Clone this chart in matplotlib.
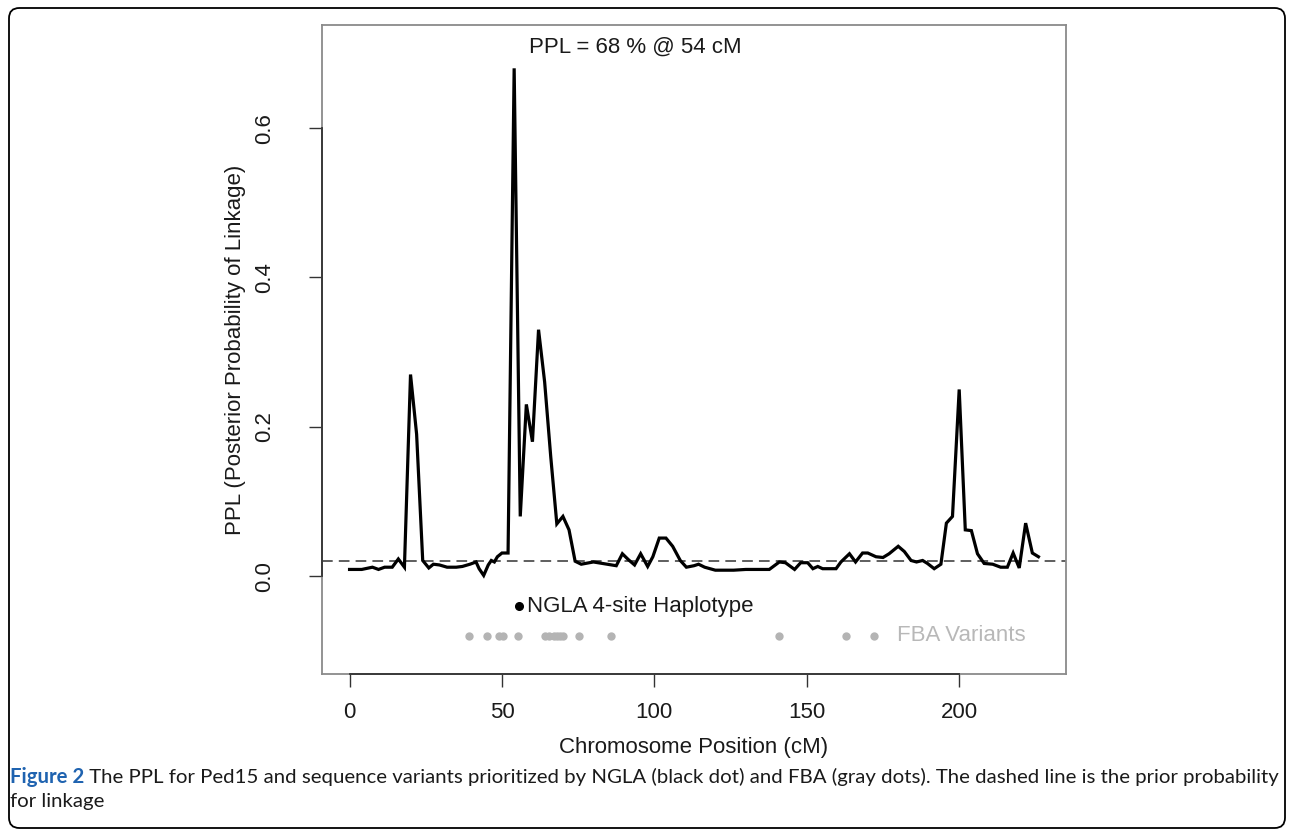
import matplotlib
matplotlib.use("Agg")
import matplotlib.pyplot as plt
from matplotlib.patches import FancyBboxPatch
from matplotlib.lines import Line2D

# ---------------- data ----------------
position_cm = [0, 4, 7.5, 9.5, 11.5, 14, 16, 18, 20, 22, 24, 26, 27.5, 29.5, 32, 35, 37,
               39.5, 41.5, 42.5, 44, 45.5, 46.5, 47.5, 48.5, 50, 52, 54, 56, 58, 60, 62,
               64, 66, 68, 70, 72, 74, 76, 80, 83, 87.5, 89.5, 91.5, 93.5, 95.5, 97.8,
               99.5, 101.6, 103.8, 106, 108.5, 110.5, 113, 114.5, 116.5, 120, 126, 130,
               137.7, 141, 143, 146, 148, 150.3, 152, 153.6, 155.2, 159.6, 161.2, 164,
               166, 168.3, 170, 172.7, 175, 177, 180, 182, 184.2, 186, 188, 189.6, 191.8,
               194, 195.8, 197.8, 200, 202, 204, 206, 208.2, 211, 213.6, 215.8, 217.7,
               219.7, 221.8, 224, 226]
ppl = [0.009, 0.009, 0.012, 0.009, 0.012, 0.012, 0.023, 0.012, 0.27, 0.19, 0.021, 0.011,
       0.016, 0.015, 0.012, 0.012, 0.013, 0.016, 0.019, 0.010, 0.001, 0.015, 0.021, 0.019,
       0.026, 0.031, 0.031, 0.68, 0.08, 0.23, 0.18, 0.33, 0.26, 0.16, 0.07, 0.08, 0.062,
       0.02, 0.016, 0.019, 0.017, 0.014, 0.030, 0.022, 0.015, 0.030, 0.013, 0.026, 0.051,
       0.051, 0.040, 0.021, 0.012, 0.014, 0.016, 0.012, 0.008, 0.008, 0.009, 0.009, 0.019,
       0.018, 0.009, 0.018, 0.018, 0.010, 0.013, 0.010, 0.010, 0.019, 0.030, 0.019, 0.031,
       0.031, 0.026, 0.025, 0.030, 0.040, 0.033, 0.021, 0.019, 0.021, 0.017, 0.010, 0.016,
       0.071, 0.080, 0.25, 0.062, 0.061, 0.030, 0.017, 0.016, 0.012, 0.012, 0.031, 0.011,
       0.071, 0.031, 0.026]
prior_probability = 0.02

ngla_position = [55.7]
ngla_y = [-0.04]
fba_positions = [39.1, 45.1, 48.9, 50.3, 55.2, 64, 65.5, 67, 68, 69, 70, 75.4, 85.8,
                 140.8, 162.8, 171.9]
fba_y = -0.08

peak_label = "PPL = 68 % @ 54 cM"
ngla_label = "NGLA 4-site Haplotype"
fba_label = "FBA Variants"
x_ticks = [0, 50, 100, 150, 200]
y_ticks = [0.0, 0.2, 0.4, 0.6]
x_title = "Chromosome Position (cM)"
y_title = "PPL (Posterior Probability of Linkage)"
caption_bold = "Figure 2"
caption_line1 = (" The PPL for Ped15 and sequence variants prioritized by NGLA (black dot) and "
                 "FBA (gray dots). The dashed line is the prior probability")
caption_line2 = "for linkage"

# ---------------- figure ----------------
W, H = 1292, 833
fig = plt.figure(figsize=(W / 100, H / 100), dpi=100)
plt.rcParams['font.family'] = ['Liberation Sans', 'DejaVu Sans']
FS = 16.0

def fx(px):
    return px / W

def fy(py):
    return 1 - py / H

# rounded border of the figure panel
border = FancyBboxPatch((fx(9), fy(828)), fx(1285) - fx(9), fy(8) - fy(828),
                        boxstyle="round,pad=0,rounding_size=0.008",
                        transform=fig.transFigure, fill=False, edgecolor='black',
                        linewidth=1.3, mutation_aspect=W / H)
fig.patches.append(border)

left, right, top, bottom = 322, 1066, 25, 674
ax = fig.add_axes([fx(left), fy(bottom), fx(right) - fx(left), fy(top) - fy(bottom)])
ax.set_xlim(-9.04, 235.04)
ax.set_ylim(-0.131, 0.738)

for sp in ax.spines.values():
    sp.set_color('#8a8a8a')
    sp.set_linewidth(1.3)

ax.plot(position_cm, ppl, color='black', linewidth=2.3, solid_joinstyle='miter', zorder=3)
ax.axhline(prior_probability, color='#333333', linewidth=1.1, dashes=(7, 4), zorder=2)

ax.plot(ngla_position, ngla_y, 'o', color='black', markersize=5.5, zorder=4)
ax.plot(fba_positions, [fba_y] * len(fba_positions), 'o', color='#b4b4b4',
        markersize=6, markeredgewidth=0, zorder=4)

ax.text(59, 0.708, peak_label, fontsize=FS, color='#1a1a1a', va='center', ha='left')
ax.text(58.3, -0.04, ngla_label, fontsize=FS, color='#1a1a1a', va='center', ha='left')
ax.text(179.5, -0.08, fba_label, fontsize=FS, color='#b8b8b8', va='center', ha='left')

ax.set_xticks(x_ticks)
ax.set_xticklabels([str(t) for t in x_ticks])
ax.set_yticks(y_ticks)
ax.set_yticklabels([f"{t:.1f}" for t in y_ticks])
ax.tick_params(axis='both', direction='out', length=9.5, width=1.0, color='#333333',
               labelsize=FS, labelcolor='#1a1a1a')
ax.tick_params(axis='x', pad=11)
ax.tick_params(axis='y', pad=24, labelrotation=90)
for lab in ax.get_yticklabels():
    lab.set_va('center')

# darker axis lines over the tick range (R style axis)
ax.add_line(Line2D([x_ticks[0], x_ticks[-1]], [0, 0], transform=ax.get_xaxis_transform(),
                   color='#333333', linewidth=1.3, clip_on=False, zorder=5))
ax.add_line(Line2D([0, 0], [y_ticks[0], y_ticks[-1]], transform=ax.get_yaxis_transform(),
                   color='#333333', linewidth=1.3, clip_on=False, zorder=5))

ax.text(0.5, (bottom - 747) / (bottom - top), x_title, transform=ax.transAxes,
        ha='center', va='center', fontsize=FS, color='#1a1a1a')
ax.text((235 - left) / (right - left), 0.5, y_title, transform=ax.transAxes,
        ha='center', va='center', rotation=90, fontsize=FS, color='#1a1a1a')

# ---------------- caption ----------------
cap_font = ['Lato', 'DejaVu Sans']
cap_size = 13.5
t_bold = fig.text(fx(10), fy(777), caption_bold, fontsize=cap_size, fontweight='bold',
                  color='#1f63b0', family=cap_font, va='center', ha='left')
t_rest = fig.text(fx(10), fy(777), caption_line1, fontsize=cap_size, color='#1a1a1a',
                  family=cap_font, va='center', ha='left')
t_l2 = fig.text(fx(10), fy(801), caption_line2, fontsize=cap_size, color='#1a1a1a',
                family=cap_font, va='center', ha='left')
fig.canvas.draw()
r = fig.canvas.get_renderer()
wb = t_bold.get_window_extent(r).width
wr = t_rest.get_window_extent(r).width
scale = (1283 - 10) / (wb + wr)
for t in (t_bold, t_rest, t_l2):
    t.set_fontsize(cap_size * scale)
fig.canvas.draw()
wb = t_bold.get_window_extent(r).width
t_rest.set_x(fx(10 + wb))

fig.savefig("out.png", dpi=100)
